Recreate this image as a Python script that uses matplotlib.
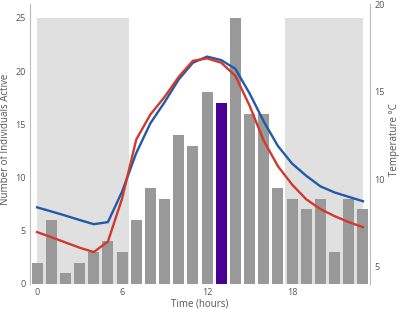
import matplotlib
matplotlib.use("Agg")
from matplotlib import pyplot as plt
import numpy as np

# Hour of day
hours = list(range(24))
# Number of individuals active per hour
active = [2, 6, 1, 2, 3, 4, 3, 6, 9, 8, 14, 13, 18, 17, 25, 16, 16, 9, 8, 7, 8, 3, 8, 7]
highlight_hour = 13

# Temperature curves (degrees C)
temp_blue = [8.4, 8.17, 7.93, 7.68, 7.44, 7.56, 9.3, 11.5, 13.2, 14.4, 15.7, 16.65,
             17.0, 16.8, 16.3, 14.9, 13.3, 11.9, 10.9, 10.2, 9.6, 9.25, 9.0, 8.75]
temp_red = [6.99, 6.7, 6.4, 6.1, 5.85, 6.45, 8.9, 12.27, 13.7, 14.7, 15.85, 16.76,
            16.9, 16.65, 15.9, 14.2, 12.2, 10.75, 9.7, 8.86, 8.3, 7.9, 7.56, 7.27]

# Night shading (hours)
night_spans = [(0, 6.5), (17.5, 23)]
night_top = 25

xticks = [0, 6, 12, 18]
left_ticks = [0, 5, 10, 15, 20, 25]
right_ticks = [5, 10, 15, 20]

plt.rcParams['font.family'] = ['Open Sans', 'DejaVu Sans']
txt = '#555555'
fig = plt.figure(figsize=(4, 3.09), dpi=100)
ax = fig.add_axes([0.075, 0.081, 0.85, 0.906])

for a, b in night_spans:
    ax.fill_between([a, b], 0, night_top, color='#e0e0e0', lw=0, zorder=0)

colors = ['#4b0095' if h == highlight_hour else '#999999' for h in hours]
ax.bar(hours, active, width=0.78, color=colors, zorder=2)

ax.set_xlim(-0.5, 23.5)
ax.set_ylim(0, 26.3)
ax.set_xticks(xticks)
ax.set_yticks(left_ticks)
ax.tick_params(length=0, labelsize=6.5, colors=txt, pad=3)

ax2 = ax.twinx()
ax2.plot(hours, temp_blue, color='#1f5ba8', lw=1.7, zorder=3)
ax2.plot(hours, temp_red, color='#cf3a2b', lw=1.7, zorder=3)
ax2.set_ylim(4.03, 20.0)
ax2.set_yticks(right_ticks)
ax2.tick_params(length=0, labelsize=6.5, colors=txt, pad=3)

# axis titles placed by hand so nothing is clipped
fig.text(200 / 400, 1 - 304 / 309, 'Time (hours)', fontsize=7, color=txt,
         ha='center', va='center')
fig.text(6 / 400, 1 - 139 / 309, 'Number of Individuals Active', fontsize=7,
         color=txt, ha='center', va='center', rotation=90)
fig.text(394 / 400, 1 - 140 / 309, 'Temperature °C', fontsize=7, color=txt,
         ha='center', va='center', rotation=90)

for a in (ax, ax2):
    for s in ('top', 'bottom'):
        a.spines[s].set_visible(False)
    a.spines['left'].set_color('#bbbbbb')
    a.spines['right'].set_color('#bbbbbb')
    a.spines['left'].set_linewidth(0.8)
    a.spines['right'].set_linewidth(0.8)
ax2.spines['left'].set_visible(False)
ax.spines['right'].set_visible(False)

fig.savefig('out.png', dpi=100)
